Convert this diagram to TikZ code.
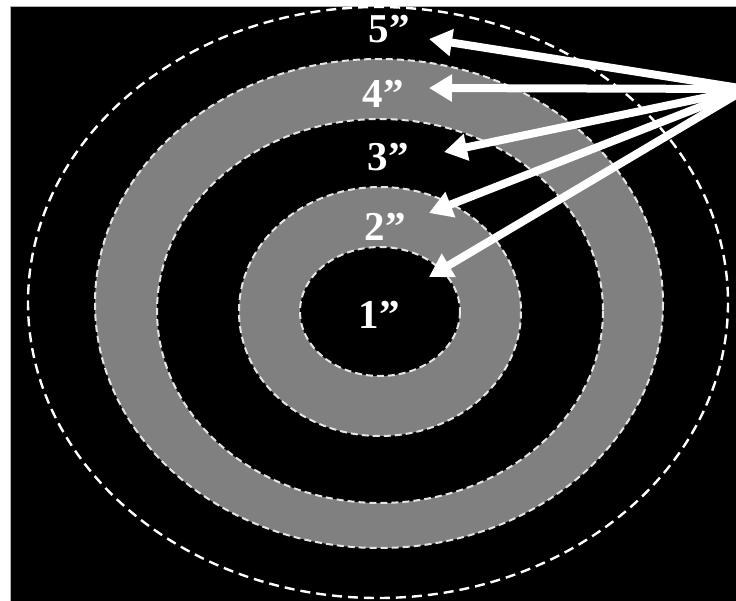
\documentclass[tikz,border=0pt]{standalone}
\usepackage{fontspec}
\setmainfont{Liberation Serif}
\usetikzlibrary{arrows.meta}

\begin{document}
\begin{tikzpicture}[x=1pt, y=-1pt, every node/.style={font=\bfseries\fontsize{41}{41}\selectfont, text=white, inner sep=0pt}]
  \tikzset{ring/.style={draw=white!90!black, line width=2pt, dash pattern=on 7pt off 4pt}, outer/.style={draw=white, line width=2.4pt, dash pattern=on 10pt off 6pt}, pointer/.style={draw=white, line width=8pt, -{Triangle[length=23pt,width=26pt]}}}
  \useasboundingbox (0,0) rectangle (736,600);
  \fill[white] (0,0) rectangle (736,600);
  \draw[fill=black, draw=gray!60, line width=.6pt] (10,6) rectangle (745,610);

  % rings, outermost first
  \draw[outer] (378,302.5) ellipse (350 and 295.5);
  \draw[ring, fill=gray] (379,303.5) ellipse (284 and 244.5);
  \draw[ring, fill=black] (380,311) ellipse (223 and 192);
  \draw[ring, fill=gray] (380,311.5) ellipse (141 and 124.5);
  \draw[ring, fill=black] (380,311.5) ellipse (80 and 64.5);

  % sizes
  \node[anchor=base] (five) at (389,42) {5''};
  \node[anchor=base] (four) at (383,107) {4''};
  \node[anchor=base] (three) at (388,170) {3''};
  \node[anchor=base] (two) at (385,240) {2''};
  \node[anchor=base] (one) at (379,328) {1''};

  % pointers from the right edge
  \coordinate (src) at (746,89);
  \coordinate (tip5) at (429,39);
  \coordinate (tip4) at (429,88);
  \coordinate (tip3) at (444,152);
  \coordinate (tip2) at (429,213);
  \coordinate (tip1) at (429,277);
  \foreach \t in {5,4,3,2,1}
    \draw[pointer] (src) -- (tip\t);
\end{tikzpicture}
\end{document}
